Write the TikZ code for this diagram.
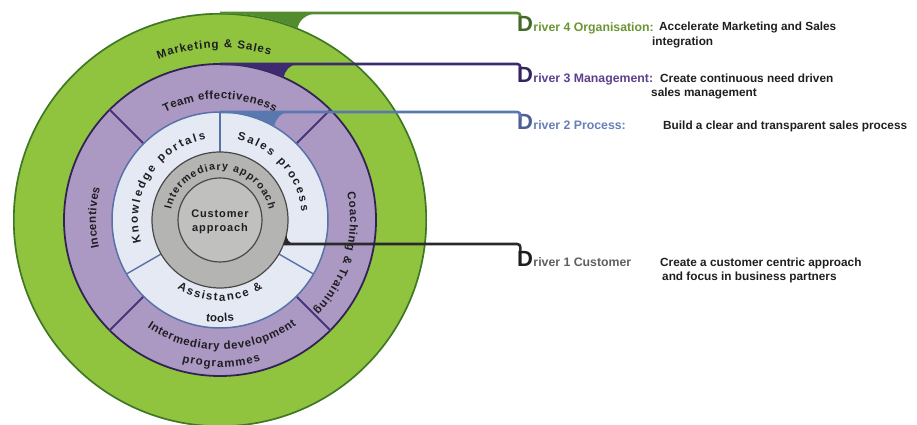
\documentclass[tikz,border=0pt]{standalone}
\usepackage{fontspec}
\setmainfont{Liberation Sans}
\usetikzlibrary{decorations.text}

% ring colours
\definecolor{grnfill}{RGB}{144,196,62}
\definecolor{grnedge}{RGB}{62,118,42}
\definecolor{purfill}{RGB}{172,153,195}
\definecolor{puredge}{RGB}{48,36,84}
\definecolor{purdiv}{RGB}{72,52,122}
\definecolor{ltfill}{RGB}{228,233,244}
\definecolor{ltedge}{RGB}{86,114,168}
\definecolor{gyfill}{RGB}{180,180,178}
\definecolor{gyin}{RGB}{192,192,190}
\definecolor{gyedge}{RGB}{72,72,72}
\definecolor{labelcol}{RGB}{30,30,34}
% driver colours
\definecolor{drvfour}{RGB}{82,140,46}
\definecolor{dfour}{RGB}{66,104,42}
\definecolor{tfour}{RGB}{108,150,52}
\definecolor{drvthree}{RGB}{62,42,112}
\definecolor{dthree}{RGB}{52,36,96}
\definecolor{tthree}{RGB}{92,64,142}
\definecolor{drvtwo}{RGB}{90,120,176}
\definecolor{dtwo}{RGB}{76,96,148}
\definecolor{ttwo}{RGB}{102,126,186}
\definecolor{drvone}{RGB}{42,42,42}
\definecolor{done}{RGB}{30,30,30}
\definecolor{tone}{RGB}{96,96,96}

\begin{document}
\begin{tikzpicture}[x=1pt, y=1pt,
  ringtext/.style={decorate, decoration={text along path,
      text align={fit to path}, text color=labelcol,
      text={|\bfseries\fontsize{11.5}{13}\selectfont|#1}}},
  coretext/.style={decorate, decoration={text along path,
      text align={fit to path}, text color=labelcol,
      text={|\bfseries\fontsize{10.5}{12}\selectfont|#1}}},
  desc/.style={anchor=base west, inner sep=0pt,
      font=\bfseries\fontsize{11.8}{14}\selectfont, text=black!88},
  dletter/.style={anchor=base west, inner sep=0pt,
      font=\bfseries\fontsize{22}{22}\selectfont},
  dlabel/.style={anchor=base west, inner sep=0pt,
      font=\bfseries\fontsize{12.3}{14}\selectfont},
  driver/.style={line width=2.6pt, rounded corners=3pt},
  corelabel/.style={inner sep=0pt, anchor=base, text=labelcol,
      font=\bfseries\fontsize{11}{13}\selectfont\addfontfeature{LetterSpace=8}},
]
\useasboundingbox (0,0) rectangle (917,425);

\begin{scope}[shift={(220,205)}]
  % outer ring: marketing & sales
  \fill[grnfill] (0,0) circle[radius=207];
  \draw[grnedge, line width=1.6pt] (0,0) circle[radius=206.2];
  % management ring
  \filldraw[fill=purfill, draw=puredge, line width=1.8pt] (0,0) circle[radius=156];
  \foreach \a in {45,135,225,315}
    \draw[purdiv, line width=1.8pt] (\a:108) -- (\a:156);
  % process ring
  \filldraw[fill=ltfill, draw=ltedge, line width=1.5pt] (0,0) circle[radius=108];
  \foreach \a in {90,210,330}
    \draw[ltedge, line width=1.4pt] (\a:68) -- (\a:108);
  % customer core
  \filldraw[fill=gyfill, draw=gyedge, line width=1.2pt] (0,0) circle[radius=68];
  \filldraw[fill=gyin, draw=gyedge, line width=1.2pt] (0,0) circle[radius=42];

  % curved ring labels
  \path[ringtext={Marketing {\&} Sales}] (111:172) arc[start angle=111, end angle=73, radius=172];
  \path[ringtext={Team effectiveness}] (117:121) arc[start angle=117, end angle=63, radius=121];
  \path[ringtext={Incentives}] (193:124) arc[start angle=193, end angle=165, radius=124];
  \path[ringtext={Coaching {\&} Training}] (12:130) arc[start angle=12, end angle=-44, radius=130];
  \path[ringtext={Intermediary development}] (236:130) arc[start angle=236, end angle=306, radius=130];
  \path[ringtext={programmes}] (255:147) arc[start angle=255, end angle=286, radius=147];
  \path[ringtext={Knowledge portals}] (196:82) arc[start angle=196, end angle=100, radius=82];
  \path[ringtext={Sales process}] (78:82) arc[start angle=78, end angle=6, radius=82];
  \path[ringtext={Assistance {\&}}] (238:81) arc[start angle=238, end angle=302, radius=81];
  \path[ringtext={tools}] (262:102) arc[start angle=262, end angle=278, radius=102];
  \path[coretext={Intermediary approach}] (168:50) arc[start angle=168, end angle=12, radius=50];

  % connector start points on the rings
  \coordinate (s4) at (90:207);
  \coordinate (s3) at (90:156);
  \coordinate (s2) at (90:108);
  \coordinate (s1) at (-20.7:68);

  % flared joints where the connectors leave the rings
  \fill[drvfour] (90:207) -- (98,207) .. controls (85,206) and (79,199) .. (68:207)
    arc[start angle=68, end angle=90, radius=207] -- cycle;
  \fill[drvthree] (90:156) -- (78,156) .. controls (69,155) and (65,149) .. (66:156)
    arc[start angle=66, end angle=90, radius=156] -- cycle;
  \fill[drvtwo] (90:108) -- (70,108) .. controls (60,107.5) and (56,101) .. (60:108)
    arc[start angle=60, end angle=90, radius=108] -- cycle;
  \fill[drvone] (-20.7:68) -- (74,-24) .. controls (69,-23.5) and (67,-19) .. (-13:68)
    arc[start angle=-13, end angle=-20.7, radius=68] -- cycle;
\end{scope}

% centre label
\node[corelabel] (cust) at (220,207) {Customer};
\node[corelabel] (appr) at (220,193) {approach};

% driver 4
\node[dletter, text=dfour] (d4) at (517,393) {D};
\node[dlabel, text=tfour] (t4) at (d4.base east) {river 4 Organisation:};
\node[desc] (a4) at (659,394) {Accelerate Marketing and Sales};
\node[desc] (b4) at (652,379) {integration};
% driver 3
\node[dletter, text=dthree] (d3) at (517,342) {D};
\node[dlabel, text=tthree] (t3) at (d3.base east) {river 3 Management:};
\node[desc] (a3) at (660,342) {Create continuous need driven};
\node[desc] (b3) at (651,328) {sales management};
% driver 2
\node[dletter, text=dtwo] (d2) at (517,295) {D};
\node[dlabel, text=ttwo] (t2) at (d2.base east) {river 2 Process:};
\node[desc] (a2) at (663,295) {Build a clear and transparent sales process};
% driver 1
\node[dletter, text=done] (d1) at (517,158) {D};
\node[dlabel, text=tone] (t1) at (d1.base east) {river 1 Customer};
\node[desc] (a1) at (660,158) {Create a customer centric approach};
\node[desc] (b1) at (662,144) {and focus in business partners};

% connectors from the rings to the driver labels
\draw[driver, drvfour] (s4) -| ([xshift=3.3pt]d4.north west);
\draw[driver, drvthree] (s3) -| ([xshift=3.3pt]d3.north west);
\draw[driver, drvtwo] (s2) -| ([xshift=3.3pt]d2.north west);
\draw[driver, drvone] (s1) -| ([xshift=3.3pt]d1.north west);
\end{tikzpicture}
\end{document}
